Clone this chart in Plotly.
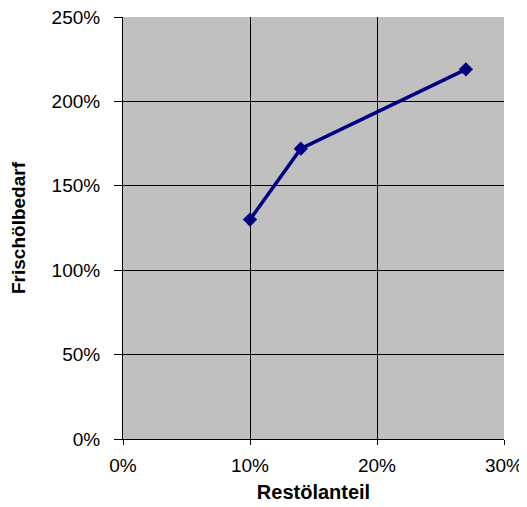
import plotly.graph_objects as go

rest_anteil = [0.10, 0.14, 0.27]
frischoel_bedarf = [1.30, 1.72, 2.19]
x_ticks = [0, 0.1, 0.2, 0.3]
x_tick_labels = ["0%", "10%", "20%", "30%"]
y_ticks = [0, 0.5, 1.0, 1.5, 2.0, 2.5]
y_tick_labels = ["0%", "50%", "100%", "150%", "200%", "250%"]

fig = go.Figure()
fig.add_trace(go.Scatter(
    x=rest_anteil, y=frischoel_bedarf, mode="lines+markers",
    line=dict(color="#000080", width=3.5),
    marker=dict(symbol="diamond", size=11, color="#000080"),
    showlegend=False, cliponaxis=False,
))

font = dict(family="Liberation Sans, Arial, sans-serif", size=19, color="black")
fig.update_layout(
    width=519, height=499,
    margin=dict(l=115, r=23, t=9, b=68, autoexpand=False),
    paper_bgcolor="white", plot_bgcolor="#C0C0C0",
    font=font,
)
fig.update_xaxes(
    range=[0, 0.3], tickvals=x_ticks, ticktext=x_tick_labels,
    showgrid=True, gridcolor="black", gridwidth=1,
    showline=True, linecolor="black", linewidth=1, mirror=False,
    ticks="outside", ticklen=5, tickcolor="black", ticklabelstandoff=4,
    zeroline=False, automargin=False, ticklabeloverflow="allow",
    title=dict(text="<b>Restölanteil</b>", font=dict(size=20), standoff=10),
)
fig.update_yaxes(
    range=[0, 2.5], tickvals=y_ticks, ticktext=y_tick_labels,
    showgrid=True, gridcolor="black", gridwidth=1,
    showline=True, linecolor="black", linewidth=1, mirror=False,
    ticks="outside", ticklen=8, tickcolor="black", ticklabelstandoff=10,
    zeroline=False, automargin=False, ticklabeloverflow="allow",
    title=dict(text="<b>Frischölbedarf</b>", font=dict(size=19), standoff=22),
)
fig.write_html("out.html")
